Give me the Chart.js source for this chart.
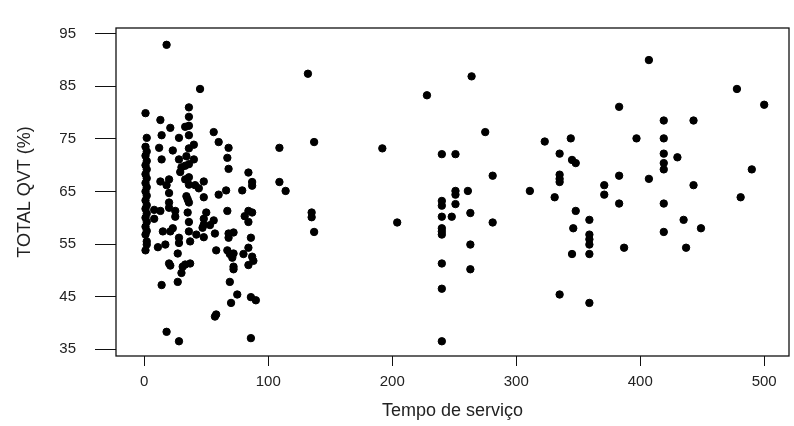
<!DOCTYPE html>
<html>
<head>
<meta charset="utf-8">
<script src="https://cdn.jsdelivr.net/npm/chart.js@4"></script>
<style>
  html, body { margin: 0; padding: 0; background: #fff; }
  #wrap { width: 794px; height: 426px; }
</style>
</head>
<body>
<div id="wrap"><canvas id="scatter"></canvas></div>
<script>
// tempo de serviço (x) and total QVT % (y)
const tempoServico = [
  1, 2, 1, 2, 1, 2, 1, 2, 1, 2, 1, 2, 1, 2, 1, 2, 1, 2, 1, 2, 1, 2, 1, 2, 2, 1,
  18, 45, 13, 36, 36, 21, 36, 33, 56, 14, 28, 36, 60, 40, 68, 12, 23, 36, 67, 14,
  28, 40, 34, 30, 36, 68, 29, 84, 87, 87, 109, 109, 114, 13, 20, 18, 33, 48, 36, 44,
  60, 66, 79, 20, 34, 48, 35, 33, 36, 41, 20, 36,
  8, 13, 20, 25, 25, 35, 50, 67, 84, 87, 81, 8, 36, 48, 56, 84, 48, 47, 53, 15,
  23, 21, 36, 42, 48, 57, 68, 72, 68, 28, 37, 86, 11, 17, 28, 58, 67, 84, 27, 69,
  72, 80, 87, 88, 71, 20, 21, 33, 37, 31, 72, 72, 84, 30, 14, 27, 69, 75, 70, 86,
  90, 58, 57, 18, 28, 86,
  132, 228, 264, 275, 137, 192, 240, 251, 281, 251, 251, 261, 311, 240, 251, 240,
  135, 135, 240, 248, 263, 204, 281, 137, 240, 240, 240, 263, 240, 263, 240, 240,
  407, 478, 500, 383, 419, 443, 323, 344, 397, 419, 335, 419, 430, 345, 348, 419,
  419, 490, 335, 335, 335, 383, 407, 371, 371, 443, 331, 481, 383, 419, 348, 359,
  435, 346, 449, 419, 359, 359, 359, 387, 437, 345, 359, 335, 359
];
const totalQvt = [
  79.9, 75.2, 73.5, 72.6, 71.8, 70.8, 70.0, 69.2, 68.3, 67.5, 66.6, 65.8, 65.0,
  64.2, 63.3, 62.4, 61.7, 60.8, 60.0, 59.2, 58.3, 57.5, 56.8, 55.5, 54.9, 53.8,
  92.9, 84.5, 78.6, 81.0, 79.2, 77.1, 77.5, 77.3, 76.3, 75.7, 75.2, 75.7, 74.4, 73.9, 73.3, 73.3,
  72.8, 73.2, 71.4, 71.1, 71.1, 71.1, 71.7, 69.6, 70.2, 69.3, 68.7, 68.6, 66.8, 66.1, 73.3, 66.8,
  65.1, 66.9, 67.3, 66.2, 67.3, 66.9, 66.3, 65.6, 64.4, 65.2, 65.2, 64.7, 64.1, 63.9, 63.5, 69.9,
  67.7, 66.2, 62.9, 62.9,
  61.5, 61.3, 61.9, 61.3, 60.2, 61.0, 61.0, 61.3, 61.3, 61.0, 60.3, 59.8, 59.2, 59.8, 59.5, 59.2,
  58.7, 58.1, 58.6, 57.4, 58.0, 57.4, 57.4, 56.8, 56.3, 57.0, 57.0, 57.2, 56.2, 56.2, 55.5, 56.2,
  54.4, 54.9, 55.2, 53.8, 53.8, 54.3, 53.2, 53.1, 53.2, 53.1, 52.6, 51.8, 52.4, 51.3, 50.9, 51.1,
  51.3, 50.7, 50.7, 50.2, 51.0, 49.5, 47.2, 47.8, 47.8, 45.4, 43.8, 44.9, 44.3, 41.6, 41.2, 38.3,
  36.5, 37.1,
  87.4, 83.3, 86.9, 76.3, 74.4, 73.2, 72.1, 72.1, 68.0, 65.1, 64.4, 65.1, 65.1, 63.2, 62.6, 62.3,
  61.0, 60.1, 60.2, 60.2, 60.9, 59.1, 59.1, 57.3, 58.0, 57.4, 56.8, 54.9, 51.3, 50.2, 46.5, 36.5,
  90.0, 84.5, 81.5, 81.1, 78.5, 78.5, 74.5, 75.1, 75.1, 75.1, 72.2, 72.2, 71.5, 71.0, 70.4, 70.4,
  69.2, 69.2, 68.2, 67.4, 66.8, 68.0, 67.4, 66.2, 64.4, 66.2, 63.9, 63.9, 62.7, 62.7, 61.3, 59.6,
  59.6, 58.0, 58.0, 57.3, 56.8, 55.9, 54.9, 54.3, 54.3, 53.1, 53.1, 45.4, 43.8
];
const xTicks = [0, 100, 200, 300, 400, 500];
const yTicks = [35, 45, 55, 65, 75, 85, 95];

const points = tempoServico.map((x, i) => ({ x: x, y: totalQvt[i] }));

// R-style box around the plotting region
const boxPlugin = {
  id: 'box',
  afterDraw(chart) {
    const a = chart.chartArea;
    const ctx = chart.ctx;
    ctx.save();
    ctx.strokeStyle = '#111';
    ctx.lineWidth = 1.3;
    ctx.strokeRect(a.left, a.top, a.right - a.left, a.bottom - a.top);
    ctx.restore();
  }
};

new Chart(document.getElementById('scatter'), {
  type: 'scatter',
  data: {
    datasets: [{
      data: points,
      backgroundColor: '#000',
      borderColor: '#000',
      pointRadius: 3.7,
      pointHoverRadius: 3.7
    }]
  },
  options: {
    responsive: true,
    maintainAspectRatio: false,
    animation: false,
    layout: { padding: { top: 15, right: 5, left: 0, bottom: 0 } },
    plugins: { legend: { display: false }, tooltip: { enabled: false } },
    scales: {
      x: {
        type: 'linear',
        min: -22.8,
        max: 520,
        afterBuildTicks: s => { s.ticks = xTicks.map(v => ({ value: v })); },
        afterFit: s => { s.height = 70; },
        grid: { drawOnChartArea: false, drawTicks: true, tickLength: 10, color: '#111' },
        border: { display: false },
        ticks: { color: '#222', padding: 7, font: { family: 'Liberation Sans', size: 15 } },
        title: {
          display: true,
          text: 'Tempo de serviço',
          color: '#222',
          padding: { top: 0, bottom: 4 },
          font: { family: 'Liberation Sans', size: 18 }
        }
      },
      y: {
        type: 'linear',
        min: 33.7,
        max: 96.1,
        afterBuildTicks: s => { s.ticks = yTicks.map(v => ({ value: v })); },
        afterFit: s => { s.width = 116; },
        grid: { drawOnChartArea: false, drawTicks: true, tickLength: 21, color: '#111' },
        border: { display: false },
        ticks: { color: '#222', padding: 19, font: { family: 'Liberation Sans', size: 15 } },
        title: {
          display: true,
          text: 'TOTAL QVT (%)',
          color: '#222',
          padding: { top: 14, bottom: 0 },
          font: { family: 'Liberation Sans', size: 18 }
        }
      }
    }
  },
  plugins: [boxPlugin]
});
</script>
</body>
</html>
